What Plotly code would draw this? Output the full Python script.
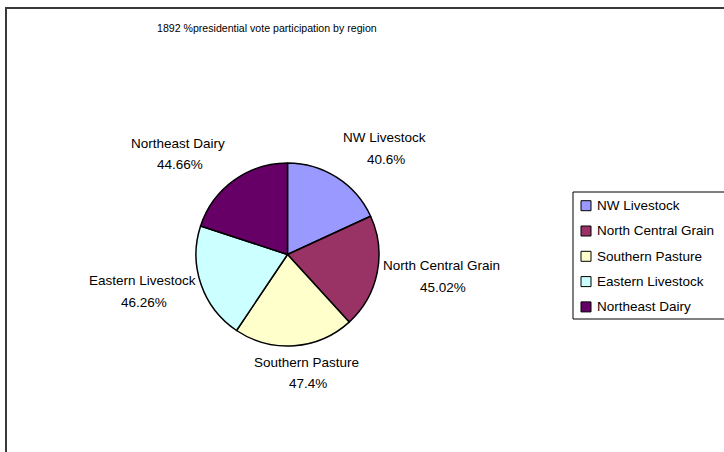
import plotly.graph_objects as go

# ---- data ----
regions = ["NW Livestock", "North Central Grain", "Southern Pasture",
           "Eastern Livestock", "Northeast Dairy"]
participation = [40.6, 45.02, 47.4, 46.26, 44.66]
slice_colors = ["#9999FF", "#993366", "#FFFFCC", "#CCFFFF", "#660066"]
title_text = "1892 %presidential vote participation by region"

# ---- layout constants (pixels) ----
W, H = 724, 452
CX, CY, R = 287.5, 254.5, 91.5          # pie centre / radius
# label (name line) offsets from pie centre
label_offsets = [(96.5, -116.5), (154.0, 11.2), (18.5, 107.8),
                 (-145.0, 26.2), (-109.5, -111.5)]
VALUE_DY = 21.5
LEG_X0, LEG_Y0, LEG_Y1 = 573, 192, 319
LEG_ROW0, LEG_STEP = 205.7, 25.3
FONT = "Liberation Sans, Arial, sans-serif"


def px(x):
    return x / W


def py(y):
    return 1 - y / H


fig = go.Figure()
fig.add_trace(go.Pie(
    labels=regions,
    values=participation,
    marker=dict(colors=slice_colors, line=dict(color="black", width=1.5)),
    sort=False,
    direction="clockwise",
    rotation=0,
    textinfo="none",
    hoverinfo="label+value",
    showlegend=False,
    domain=dict(x=[px(CX - R), px(CX + R)], y=[py(CY + R), py(CY - R)]),
))

annotations = [dict(text=title_text, x=px(266.5), y=py(28), xref="paper", yref="paper",
                    showarrow=False, xanchor="center", yanchor="middle",
                    font=dict(family=FONT, size=10.6, color="black"))]
shapes = [dict(type="rect", xref="paper", yref="paper",
               x0=px(6), x1=px(W + 20), y0=py(H + 20), y1=py(8),
               line=dict(color="#3a3a3a", width=2), fillcolor="rgba(0,0,0,0)")]

for name, val, (dx, dy) in zip(regions, participation, label_offsets):
    annotations.append(dict(text=name, x=px(CX + dx), y=py(CY + dy), xref="paper", yref="paper",
                            showarrow=False, xanchor="center", yanchor="middle",
                            font=dict(family=FONT, size=13.5, color="black")))
    annotations.append(dict(text=f"{val}%", x=px(CX + dx + 1.5), y=py(CY + dy + VALUE_DY),
                            xref="paper", yref="paper",
                            showarrow=False, xanchor="center", yanchor="middle",
                            font=dict(family=FONT, size=13.5, color="black")))

# legend box
shapes.append(dict(type="rect", xref="paper", yref="paper",
                   x0=px(LEG_X0), x1=px(W + 10), y0=py(LEG_Y1), y1=py(LEG_Y0),
                   line=dict(color="black", width=1), fillcolor="white"))
for i, (name, col) in enumerate(zip(regions, slice_colors)):
    yc = LEG_ROW0 + i * LEG_STEP
    shapes.append(dict(type="rect", xref="paper", yref="paper",
                       x0=px(581), x1=px(591), y0=py(yc + 5), y1=py(yc - 5),
                       line=dict(color="black", width=1), fillcolor=col))
    annotations.append(dict(text=name, x=px(595), y=py(yc), xref="paper", yref="paper",
                            showarrow=False, xanchor="left", yanchor="middle",
                            font=dict(family=FONT, size=13.5, color="black")))

fig.update_layout(
    width=W, height=H,
    margin=dict(l=0, r=0, t=0, b=0),
    paper_bgcolor="white", plot_bgcolor="white",
    annotations=annotations, shapes=shapes,
    showlegend=False,
)

fig.write_html("out.html",
               config={"displayModeBar": False},
               post_script="document.body.style.margin='0';document.body.style.overflow='hidden';")
